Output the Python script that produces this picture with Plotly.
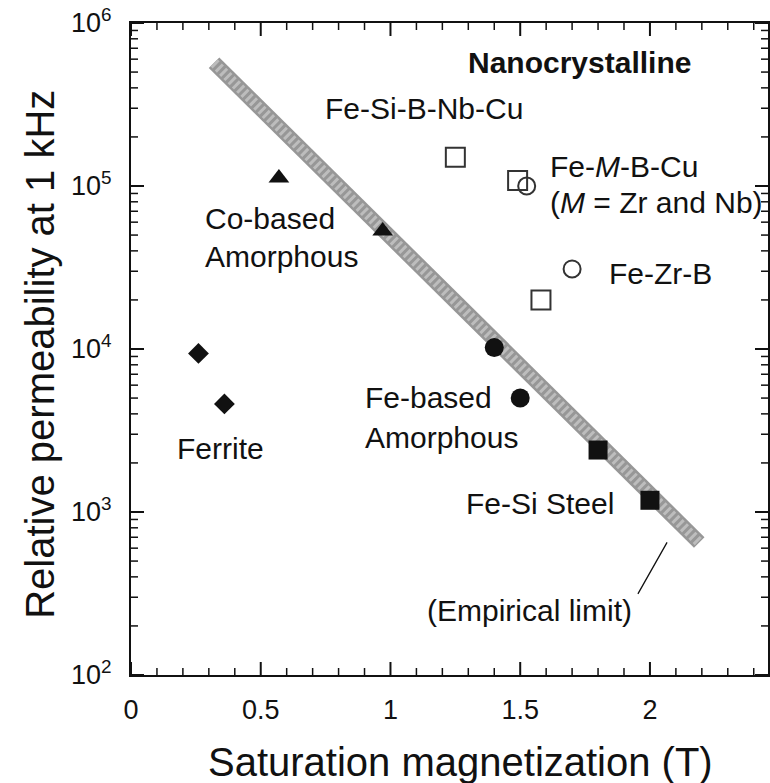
import math
import plotly.graph_objects as go

# Saturation magnetization (T) and relative permeability at 1 kHz per material class
ferrite_ms = [0.26, 0.36]
ferrite_mu = [9.4e3, 4.6e3]

co_amorph_ms = [0.57, 0.97]
co_amorph_mu = [1.12e5, 5.3e4]

fe_amorph_ms = [1.40, 1.50]
fe_amorph_mu = [1.02e4, 5.0e3]

fesi_ms = [1.80, 2.00]
fesi_mu = [2.4e3, 1.18e3]

nano_sq_ms = [1.25, 1.49, 1.58]
nano_sq_mu = [1.5e5, 1.08e5, 2.0e4]

nano_ci_ms = [1.525, 1.70]
nano_ci_mu = [1.0e5, 3.1e4]

limit_ms = [0.32, 2.19]
limit_mu = [5.7e5, 6.5e2]

x_major = [0, 0.5, 1, 1.5, 2]
x_tick_text = ["0", "0.5", "1", "1.5", "2"]
x_minor = [round(i * 0.1, 1) for i in range(1, 25) if i % 5]

y_major = [1e2, 1e3, 1e4, 1e5, 1e6]
y_tick_text = ["10<sup>2</sup>", "10<sup>3</sup>", "10<sup>4</sup>", "10<sup>5</sup>", "10<sup>6</sup>"]
y_minor = [m * 10 ** e for e in range(2, 6) for m in range(2, 10)]

INK = "#111111"
OPEN = "#333333"
FONT = "Liberation Sans, Arial, Helvetica, sans-serif"
X_RANGE = [0, 2.455]
Y_RANGE = [2, 6]

W, H = 770, 783
M_L, M_R, M_T, M_B = 131, 2, 23, 108
PLOT_W = W - M_L - M_R
PLOT_H = H - M_T - M_B
X_PER_PX = (X_RANGE[1] - X_RANGE[0]) / PLOT_W
DEC_PER_PX = (Y_RANGE[1] - Y_RANGE[0]) / PLOT_H

fig = go.Figure()

# empirical limit band
fig.add_trace(go.Scatter(x=limit_ms, y=limit_mu, mode="lines",
                         line=dict(color="#979797", width=15), hoverinfo="skip"))
fig.add_trace(go.Scatter(x=limit_ms, y=limit_mu, mode="lines",
                         line=dict(color="#bdbdbd", width=10, dash="3px,3px"), hoverinfo="skip"))

fig.add_trace(go.Scatter(x=ferrite_ms, y=ferrite_mu, mode="markers",
                         marker=dict(symbol="diamond", size=16, color=INK)))
fig.add_trace(go.Scatter(x=co_amorph_ms, y=co_amorph_mu, mode="markers",
                         marker=dict(symbol="triangle-up", size=18, color=INK)))
fig.add_trace(go.Scatter(x=fe_amorph_ms, y=fe_amorph_mu, mode="markers",
                         marker=dict(symbol="circle", size=19, color=INK)))
fig.add_trace(go.Scatter(x=fesi_ms, y=fesi_mu, mode="markers",
                         marker=dict(symbol="square", size=19, color=INK)))
fig.add_trace(go.Scatter(x=nano_sq_ms, y=nano_sq_mu, mode="markers",
                         marker=dict(symbol="square-open", size=19, color=OPEN,
                                     line=dict(color=OPEN, width=2))))
fig.add_trace(go.Scatter(x=nano_ci_ms, y=nano_ci_mu, mode="markers",
                         marker=dict(symbol="circle-open", size=17, color=OPEN,
                                     line=dict(color=OPEN, width=2))))

# inward tick marks on all four sides of the frame, as line segments
def tick_segments(x_vals, y_vals, length):
    xs, ys = [], []
    y_lo, y_hi = 10 ** Y_RANGE[0], 10 ** Y_RANGE[1]
    dy = length * DEC_PER_PX
    for v in x_vals:
        xs += [v, v, None, v, v, None]
        ys += [y_lo, 10 ** (Y_RANGE[0] + dy), None, y_hi, 10 ** (Y_RANGE[1] - dy), None]
    dx = length * X_PER_PX
    for v in y_vals:
        xs += [X_RANGE[0], X_RANGE[0] + dx, None, X_RANGE[1], X_RANGE[1] - dx, None]
        ys += [v, v, None, v, v, None]
    return xs, ys

for vals_x, vals_y, length, width in ((x_major, y_major, 13, 2), (x_minor, y_minor, 7, 1.5)):
    tx, ty = tick_segments(vals_x, vals_y, length)
    fig.add_trace(go.Scatter(x=tx, y=ty, mode="lines", connectgaps=False, cliponaxis=False,
                             line=dict(color=INK, width=width), hoverinfo="skip"))

# axes: labels offset by transparent outer ticks, frame drawn by the axis lines
fig.update_layout(
    xaxis=dict(range=X_RANGE, tickmode="array", tickvals=x_major, ticktext=x_tick_text,
               ticks="outside", ticklen=10, tickcolor="rgba(0,0,0,0)",
               showline=True, linewidth=2, linecolor=INK, mirror=True,
               showgrid=False, zeroline=False, automargin=False,
               tickfont=dict(family=FONT, size=27, color=INK)),
    yaxis=dict(type="log", range=Y_RANGE, tickmode="array", tickvals=y_major,
               ticktext=y_tick_text, ticks="outside", ticklen=12, tickcolor="rgba(0,0,0,0)",
               showline=True, linewidth=2, linecolor=INK, mirror=True,
               showgrid=False, zeroline=False, automargin=False,
               tickfont=dict(family=FONT, size=27, color=INK)),
)

def label(text, x, logy, anchor="center", size=30, bold=False):
    fig.add_annotation(x=x, y=logy, xref="x", yref="y", text=f"<b>{text}</b>" if bold else text,
                       showarrow=False, xanchor=anchor, yanchor="middle",
                       font=dict(family=FONT, size=size, color=INK))

label("Nanocrystalline", 1.727, 5.759, bold=True, size=30)
label("Fe-Si-B-Nb-Cu", 1.128, 5.474)
label("Fe-<i>M</i>-B-Cu", 1.607, 5.121, anchor="left")
label("(<i>M</i> = Zr and Nb)", 1.607, 4.899, anchor="left")
label("Fe-Zr-B", 1.834, 4.464, anchor="left")
label("Co-based", 0.278, 4.802, anchor="left")
label("Amorphous", 0.278, 4.569, anchor="left")
label("Ferrite", 0.344, 3.390)
label("Fe-based", 0.894, 3.704, anchor="left")
label("Amorphous", 0.894, 3.458, anchor="left")
label("Fe-Si Steel", 1.578, 3.053)
label("(Empirical limit)", 1.535, 2.397)

# leader from the caption to the band
fig.add_annotation(x=2.066, y=2.814, xref="x", yref="y", text="", showarrow=True,
                   arrowhead=0, arrowwidth=1.3, arrowcolor=INK, ax=-30, ay=53, standoff=0)

# axis titles
fig.add_annotation(x=0.517, y=-0.134, xref="paper", yref="paper", showarrow=False,
                   text="Saturation magnetization (T)", xanchor="center", yanchor="middle",
                   font=dict(family=FONT, size=40, color=INK))
fig.add_annotation(x=-0.142, y=0.492, xref="paper", yref="paper", showarrow=False,
                   text="Relative permeability at 1 kHz", textangle=-90,
                   xanchor="center", yanchor="middle",
                   font=dict(family=FONT, size=40, color=INK))

fig.update_layout(width=W, height=H, showlegend=False,
                  margin=dict(l=M_L, r=M_R, t=M_T, b=M_B),
                  paper_bgcolor="white", plot_bgcolor="white")

fig.write_html("out.html")
